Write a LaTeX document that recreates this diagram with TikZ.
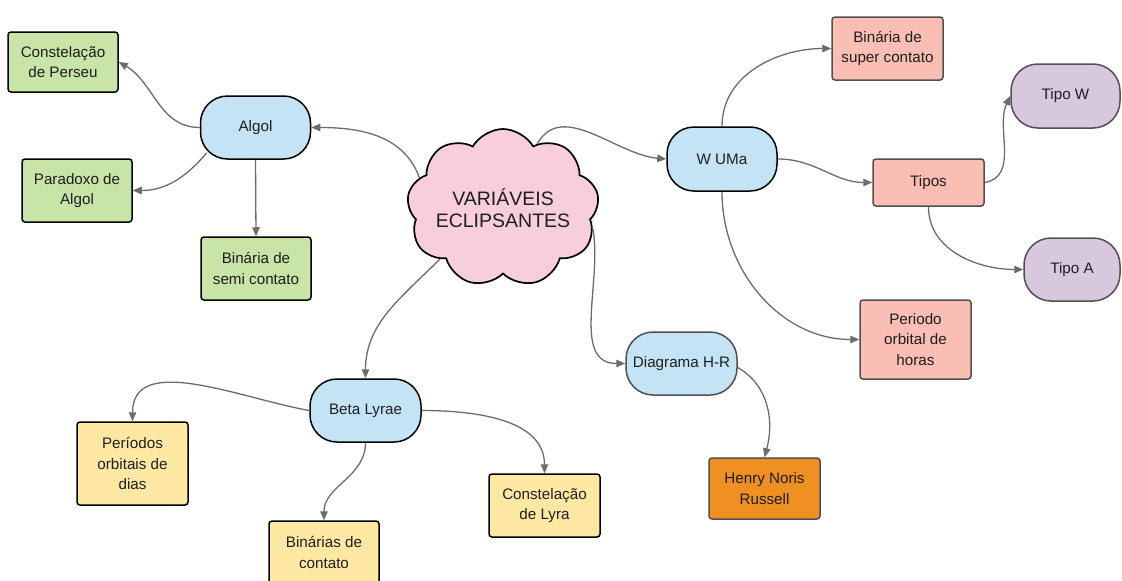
\documentclass[tikz,border=0pt]{standalone}
\usepackage{fontspec}
\setmainfont{Liberation Sans}
\usetikzlibrary{shapes.symbols,arrows.meta}
\definecolor{greenF}{RGB}{200,228,166}
\definecolor{blueF}{RGB}{196,228,246}
\definecolor{pinkF}{RGB}{248,206,220}
\definecolor{salmonF}{RGB}{250,190,180}
\definecolor{purpleF}{RGB}{216,200,222}
\definecolor{yellowF}{RGB}{254,232,164}
\definecolor{orangeF}{RGB}{240,143,34}
\definecolor{linkC}{RGB}{108,108,108}
\definecolor{txtC}{RGB}{30,30,30}
\definecolor{grayB}{RGB}{80,80,80}
\begin{document}
\begin{tikzpicture}[x=1pt,y=1pt,
  box/.style={draw=black, line width=1.5pt, rounded corners=3pt, align=center,
    inner sep=0pt, minimum width=110pt, minimum height=63pt,
    font=\fontsize{15.2}{20.5}\selectfont, text=txtC},
  greenbox/.style={box, fill=greenF},
  yellowbox/.style={box, fill=yellowF},
  salmonbox/.style={box, fill=salmonF, draw=grayB},
  orangebox/.style={box, fill=orangeF, draw=grayB},
  pill/.style={box, rounded corners=27pt, fill=blueF},
  purplepill/.style={box, rounded corners=27pt, fill=purpleF, draw=grayB},
  link/.style={draw=linkC, line width=1.3pt, -{Triangle[length=9pt,width=7.5pt]}},
]
\useasboundingbox (0,0) rectangle (1122,-581);
\fill[white] (0,0) rectangle (1122,-581);

% central cloud
\node[cloud, cloud puffs=9, cloud puff arc=120, cloud ignores aspect,
  minimum width=192pt, minimum height=158pt, draw=black, line width=1.7pt,
  fill=pinkF, align=center, text=txtC, inner sep=0pt,
  font=\fontsize{19.5}{22}\selectfont] (cloud) at (503,-208) {VARIÁVEIS\\ECLIPSANTES};

% Algol branch
\node[pill] (algol) at (255.5,-127.5) {Algol};
\node[greenbox, minimum height=60pt] (perseu) at (63,-62) {Constelação\\de Perseu};
\node[greenbox] (paradoxo) at (77,-190.5) {Paradoxo de\\Algol};
\node[greenbox] (semi) at (256,-268.5) {Binária de\\semi contato};

% W UMa branch
\node[pill, minimum height=64pt] (wuma) at (722,-159) {W UMa};
\node[salmonbox, minimum width=111pt] (super) at (887.5,-48.5) {Binária de\\super contato};
\node[salmonbox, minimum width=111pt, minimum height=47pt] (tipos) at (928.5,-182.5) {Tipos};
\node[purplepill, minimum width=109pt, minimum height=64pt] (tipow) at (1065.5,-96) {Tipo W};
\node[purplepill, minimum width=96pt] (tipoa) at (1072,-269.5) {Tipo A};
\node[salmonbox, minimum width=111pt, minimum height=79pt] (periodo) at (915.5,-339.5) {Periodo\\orbital de\\horas};

% Diagrama H-R branch
\node[pill, draw=grayB, minimum width=111pt] (hr) at (681.5,-363.5) {Diagrama H-R};
\node[orangebox, minimum width=111pt, minimum height=61pt] (henry) at (764.5,-488.5) {Henry Noris\\Russell};

% Beta Lyrae branch
\node[pill, minimum width=111pt] (beta) at (365.5,-410.5) {Beta Lyrae};
\node[yellowbox, minimum width=111pt, minimum height=83pt] (periodos) at (132.5,-463.5) {Períodos\\orbitais de\\dias};
\node[yellowbox] (contato) at (324,-552.5) {Binárias de\\contato};
\node[yellowbox, minimum width=111pt] (lyra) at (544.5,-505.5) {Constelação\\de Lyra};

% connectors
\draw[link] (cloud.160) to[out=110, in=0] (algol.east);
\draw[link] (algol.west) to[out=180, in=-30] (perseu.east);
\draw[link] ([shift={(7,7)}]algol.south west) to[out=-130, in=0] (paradoxo.east);
\draw[link] (algol.south) -- (semi.north);

\draw[link] (cloud.62) to[out=60, in=175] (wuma.west);
\draw[link] (cloud.-13) to[out=-80, in=180] (hr.west);
\draw[link] (cloud.219) to[out=-135, in=90] (beta.north);

\draw[link] (wuma.north) to[out=90, in=180] (super.west);
\draw[link] (wuma.east) to[out=0, in=180] (tipos.west);
\draw[link] (wuma.south) to[out=-90, in=180] (periodo.west);
\draw[link] (tipos.east) to[out=10, in=-115] (tipow.west);
\draw[link] (tipos.south) to[out=-90, in=180] (tipoa.west);

\draw[link] ([yshift=-4pt]hr.east) to[out=-30, in=75] (henry.north);

\draw[link] (beta.west) to[out=170, in=90] (periodos.north);
\draw[link] (beta.south) to[out=-90, in=90] (contato.north);
\draw[link] (beta.east) to[out=0, in=90] (lyra.north);
\end{tikzpicture}
\end{document}
